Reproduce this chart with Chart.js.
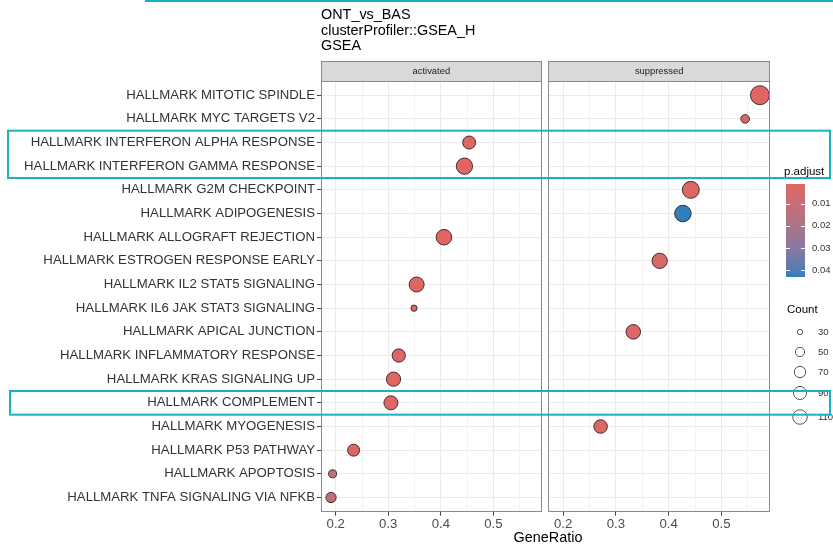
<!DOCTYPE html>
<html>
<head>
<meta charset="utf-8">
<script src="https://cdn.jsdelivr.net/npm/chart.js@4.4.1/dist/chart.umd.min.js"></script>
<style>
  html, body { margin: 0; padding: 0; background: #fff; }
  #wrap { position: relative; width: 833px; height: 544px; overflow: hidden;
          font-family: "Liberation Sans", Arial, sans-serif; background: #fff; }
  #left, #right, #overlay { position: absolute; top: 0; }
  #left { left: 0; }
  #right { left: 545px; }
  #overlay { left: 0; pointer-events: none; }
  .title { position: absolute; left: 321px; top: 7px; font-size: 14.4px; line-height: 15.5px; color: #000; }
  .xtitle { position: absolute; left: 448px; width: 200px; top: 529px; text-align: center;
            font-size: 14.4px; line-height: 16px; color: #000; }
</style>
</head>
<body>
<div id="wrap">
  <canvas id="left" width="545" height="544" style="width:545px;height:544px"></canvas>
  <canvas id="right" width="288" height="544" style="width:288px;height:544px"></canvas>
  <canvas id="overlay" width="833" height="544" style="width:833px;height:544px"></canvas>
  <div class="title">ONT_vs_BAS<br>clusterProfiler::GSEA_H<br>GSEA</div>
  <div class="xtitle">GeneRatio</div>
</div>
<script>
// Hallmark gene sets, top to bottom
const categories = [
  'HALLMARK MITOTIC SPINDLE',
  'HALLMARK MYC TARGETS V2',
  'HALLMARK INTERFERON ALPHA RESPONSE',
  'HALLMARK INTERFERON GAMMA RESPONSE',
  'HALLMARK G2M CHECKPOINT',
  'HALLMARK ADIPOGENESIS',
  'HALLMARK ALLOGRAFT REJECTION',
  'HALLMARK ESTROGEN RESPONSE EARLY',
  'HALLMARK IL2 STAT5 SIGNALING',
  'HALLMARK IL6 JAK STAT3 SIGNALING',
  'HALLMARK APICAL JUNCTION',
  'HALLMARK INFLAMMATORY RESPONSE',
  'HALLMARK KRAS SIGNALING UP',
  'HALLMARK COMPLEMENT',
  'HALLMARK MYOGENESIS',
  'HALLMARK P53 PATHWAY',
  'HALLMARK APOPTOSIS',
  'HALLMARK TNFA SIGNALING VIA NFKB'
];
const direction = [
  'suppressed', 'suppressed', 'activated', 'activated', 'suppressed', 'suppressed',
  'activated', 'suppressed', 'activated', 'activated', 'suppressed', 'activated',
  'activated', 'activated', 'suppressed', 'activated', 'activated', 'activated'
];
const geneRatio = [
  0.573, 0.545, 0.454, 0.445, 0.442, 0.427,
  0.406, 0.383, 0.354, 0.349, 0.333, 0.320,
  0.310, 0.305, 0.271, 0.234, 0.194, 0.191
];
const geneCount = [
  191, 46, 89, 139, 151, 144,
  127, 122, 118, 33, 111, 93,
  107, 103, 97, 77, 42, 59
];
const pAdjust = [
  0.0012, 0.0040, 0.0020, 0.0012, 0.0012, 0.0430,
  0.0012, 0.0040, 0.0015, 0.0060, 0.0030, 0.0020,
  0.0015, 0.0015, 0.0030, 0.0030, 0.0130, 0.0130
];
const panels = ['activated', 'suppressed'];
const xMajorTicks = [0.2, 0.3, 0.4, 0.5];
const xMinorTicks = [0.25, 0.35, 0.45, 0.55];
const pTicks = [0.01, 0.02, 0.03, 0.04];
const countBreaks = [30, 50, 70, 90, 110];

// ---- colour scale (Lab interpolation, low p = red, high p = blue) ----
const LOW_COLOR = '#e06663', HIGH_COLOR = '#327eba';
function hexToRgb(h) { h = h.replace('#', ''); return [0, 2, 4].map(i => parseInt(h.substr(i, 2), 16)); }
function toLin(c) { c /= 255; return c <= 0.04045 ? c / 12.92 : Math.pow((c + 0.055) / 1.055, 2.4); }
function fromLin(c) { const v = c <= 0.0031308 ? 12.92 * c : 1.055 * Math.pow(c, 1 / 2.4) - 0.055; return Math.round(Math.max(0, Math.min(1, v)) * 255); }
function rgbToLab(rgb) {
  const [R, G, B] = rgb.map(toLin);
  const X = (0.4124 * R + 0.3576 * G + 0.1805 * B) / 0.95047;
  const Y = (0.2126 * R + 0.7152 * G + 0.0722 * B);
  const Z = (0.0193 * R + 0.1192 * G + 0.9505 * B) / 1.08883;
  const f = t => t > 0.008856 ? Math.cbrt(t) : 7.787 * t + 16 / 116;
  return [116 * f(Y) - 16, 500 * (f(X) - f(Y)), 200 * (f(Y) - f(Z))];
}
function labToRgb([L, a, b]) {
  const fy = (L + 16) / 116, fx = fy + a / 500, fz = fy - b / 200;
  const inv = t => (t * t * t > 0.008856 ? t * t * t : (t - 16 / 116) / 7.787);
  const X = inv(fx) * 0.95047, Y = inv(fy), Z = inv(fz) * 1.08883;
  const R = 3.2406 * X - 1.5372 * Y - 0.4986 * Z;
  const G = -0.9689 * X + 1.8758 * Y + 0.0415 * Z;
  const B = 0.0557 * X - 0.2040 * Y + 1.0570 * Z;
  return [fromLin(R), fromLin(G), fromLin(B)];
}
const labLow = rgbToLab(hexToRgb(LOW_COLOR)), labHigh = rgbToLab(hexToRgb(HIGH_COLOR));
const pMin = Math.min(...pAdjust), pMax = Math.max(...pAdjust);
function colorFor(p) {
  const t = Math.max(0, Math.min(1, (p - pMin) / (pMax - pMin)));
  const lab = labLow.map((v, i) => v + (labHigh[i] - v) * t);
  const [r, g, b] = labToRgb(lab);
  return `rgb(${r},${g},${b})`;
}

// ---- size scale: outer diameter in px for a gene count ----
function diameterFor(count) {
  return 4.5 + 11 * Math.sqrt(Math.max(0, count - 28) / 82);
}

// ---- shared x range (5% expansion on each side) ----
const gMin = Math.min(...geneRatio), gMax = Math.max(...geneRatio);
const xMin = gMin - 0.05 * (gMax - gMin), xMax = gMax + 0.05 * (gMax - gMin);
const yMin = -0.6, yMax = categories.length - 1 + 0.6;
const xTickValues = [...xMajorTicks, ...xMinorTicks].sort((a, b) => a - b);
const isMajor = v => xMajorTicks.some(m => Math.abs(m - v) < 1e-9);

const stripPlugin = {
  id: 'facetStrip',
  afterDraw(chart, args, opts) {
    const { ctx, chartArea: a } = chart;
    ctx.save();
    // facet strip
    ctx.fillStyle = '#D9D9D9';
    ctx.fillRect(a.left, a.top - 20, a.right - a.left, 20);
    ctx.strokeStyle = '#8a8a8a';
    ctx.lineWidth = 1;
    ctx.strokeRect(Math.round(a.left) + 0.5, Math.round(a.top - 20) + 0.5,
                   Math.round(a.right - a.left) - 1, 20);
    ctx.fillStyle = '#1A1A1A';
    ctx.font = '9.4px "Liberation Sans", Arial, sans-serif';
    ctx.textAlign = 'center';
    ctx.textBaseline = 'middle';
    ctx.fillText(opts.text, (a.left + a.right) / 2, a.top - 10);
    // panel border
    ctx.strokeStyle = '#8a8a8a';
    ctx.strokeRect(Math.round(a.left) + 0.5, Math.round(a.top) + 0.5,
                   Math.round(a.right - a.left) - 1, Math.round(a.bottom - a.top) - 1);
    ctx.restore();
  }
};

function panelData(panel) {
  const pts = [];
  categories.forEach((c, i) => {
    if (direction[i] === panel) {
      pts.push({ x: geneRatio[i], y: i, count: geneCount[i], p: pAdjust[i] });
    }
  });
  return pts;
}

function makeChart(canvasId, panel, isLeft) {
  const tickFont = { family: '"Liberation Sans", Arial, sans-serif', size: 13.2 };
  return new Chart(document.getElementById(canvasId), {
    type: 'scatter',
    data: {
      datasets: [{
        data: panelData(panel),
        pointStyle: 'circle',
        pointRadius: ctx => diameterFor(ctx.raw.count) / 2 - 0.5,
        backgroundColor: ctx => colorFor(ctx.raw.p),
        borderColor: 'rgba(45,25,25,0.85)',
        borderWidth: 1
      }]
    },
    options: {
      responsive: false,
      animation: false,
      events: [],
      layout: {
        autoPadding: false,
        padding: isLeft ? { left: 0, right: 3.3, top: 81, bottom: 12.3 }
                        : { left: 3.3, right: 63, top: 81, bottom: 12.3 }
      },
      plugins: {
        legend: { display: false },
        tooltip: { enabled: false },
        facetStrip: { text: panel }
      },
      scales: {
        x: {
          type: 'linear',
          min: xMin,
          max: xMax,
          afterBuildTicks: s => { s.ticks = xTickValues.map(v => ({ value: v })); },
          afterFit: s => { s.height = 20; s.paddingLeft = 0; s.paddingRight = 0; },
          ticks: {
            autoSkip: false,
            maxRotation: 0,
            padding: 1,
            font: tickFont,
            color: '#4D4D4D',
            callback: v => isMajor(v) ? v.toFixed(1) : ''
          },
          grid: {
            color: ctx => isMajor(ctx.tick.value) ? '#EBEBEB' : '#F2F2F2',
            lineWidth: 1,
            tickLength: 4,
            tickColor: ctx => isMajor(ctx.tick.value) ? '#444' : 'rgba(0,0,0,0)'
          },
          border: { display: false }
        },
        y: {
          type: 'linear',
          reverse: true,
          min: yMin,
          max: yMax,
          afterBuildTicks: s => { s.ticks = categories.map((c, i) => ({ value: i })); },
          afterFit: s => { s.width = isLeft ? 321 : 0; s.paddingTop = 0; s.paddingBottom = 0; },
          ticks: {
            display: isLeft,
            autoSkip: false,
            padding: 2,
            font: tickFont,
            color: '#333',
            callback: v => categories[v]
          },
          grid: {
            color: '#EBEBEB',
            lineWidth: 1,
            drawTicks: isLeft,
            tickLength: 4,
            tickColor: '#444'
          },
          border: { display: false }
        }
      }
    },
    plugins: [stripPlugin]
  });
}

const leftChart = makeChart('left', panels[0], true);
const rightChart = makeChart('right', panels[1], false);

// ---- legends and highlight boxes ----
(function drawOverlay() {
  const cv = document.getElementById('overlay');
  const ctx = cv.getContext('2d');
  const font = s => `${s}px "Liberation Sans", Arial, sans-serif`;

  // p.adjust colour bar
  const barX = 786, barW = 19, barTop = 184, barBottom = 277;
  ctx.fillStyle = '#000';
  ctx.font = font(11.5);
  ctx.textBaseline = 'middle';
  ctx.textAlign = 'left';
  ctx.fillText('p.adjust', 784, 172);
  for (let y = barTop; y < barBottom; y++) {
    const p = pMin + (pMax - pMin) * ((y + 0.5 - barTop) / (barBottom - barTop));
    ctx.fillStyle = colorFor(p);
    ctx.fillRect(barX, y, barW, 1);
  }
  const pY = p => barTop + (p - pMin) / (pMax - pMin) * (barBottom - barTop);
  ctx.strokeStyle = '#fff';
  ctx.lineWidth = 1;
  ctx.font = font(9.5);
  pTicks.forEach(p => {
    const y = Math.round(pY(p)) + 0.5;
    ctx.beginPath();
    ctx.moveTo(barX, y); ctx.lineTo(barX + 4, y);
    ctx.moveTo(barX + barW - 4, y); ctx.lineTo(barX + barW, y);
    ctx.stroke();
    ctx.fillStyle = '#333';
    ctx.fillText(p.toFixed(2), 812, pY(p));
  });

  // Count size legend
  ctx.fillStyle = '#000';
  ctx.font = font(11.5);
  ctx.fillText('Count', 787, 310);
  const keyY = [332, 352, 372, 393, 417];
  ctx.font = font(9.5);
  countBreaks.forEach((c, i) => {
    const r = diameterFor(c) / 2 - 0.5;
    ctx.beginPath();
    ctx.arc(800, keyY[i], r, 0, Math.PI * 2);
    ctx.strokeStyle = '#555';
    ctx.lineWidth = 1;
    ctx.stroke();
    ctx.fillStyle = '#333';
    ctx.fillText(String(c), 818, keyY[i]);
  });

  // highlight boxes around selected gene sets
  const ys = leftChart.scales.y;
  const half = Math.abs(ys.getPixelForValue(1) - ys.getPixelForValue(0)) / 2;
  const rowIndex = name => categories.indexOf(name);
  const box = (first, last, x0) => {
    const top = ys.getPixelForValue(rowIndex(first)) - half;
    const bottom = ys.getPixelForValue(rowIndex(last)) + half;
    ctx.strokeRect(x0, top, 830 - x0, bottom - top);
  };
  ctx.strokeStyle = '#19b3bf';
  ctx.lineWidth = 2;
  box('HALLMARK INTERFERON ALPHA RESPONSE', 'HALLMARK INTERFERON GAMMA RESPONSE', 8);
  box('HALLMARK COMPLEMENT', 'HALLMARK COMPLEMENT', 10);
  ctx.beginPath();
  ctx.moveTo(145, 1); ctx.lineTo(833, 1);
  ctx.stroke();
})();
</script>
</body>
</html>
